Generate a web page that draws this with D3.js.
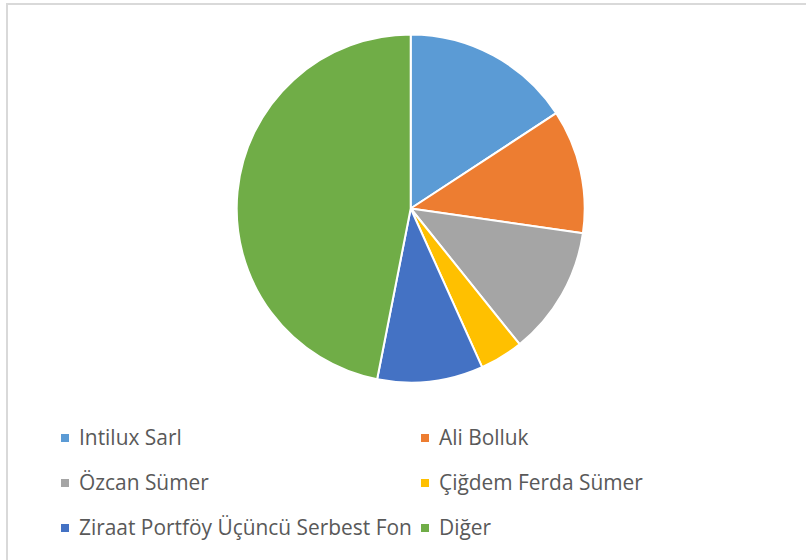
<!DOCTYPE html>
<html>
<head>
<meta charset="utf-8">
<script src="https://cdn.jsdelivr.net/npm/d3@7/dist/d3.min.js"></script>
<style>
  html, body { margin: 0; padding: 0; background: #fff; }
  svg { display: block; }
</style>
</head>
<body>
<svg id="chart" width="806" height="560"></svg>
<script>
const categories = ["Intilux Sarl", "Ali Bolluk", "Özcan Sümer", "Çiğdem Ferda Sümer", "Ziraat Portföy Üçüncü Serbest Fon", "Diğer"];
const shares = [15.77, 11.50, 11.97, 4.03, 9.82, 46.91];
const colors = ["#5B9BD5", "#ED7D31", "#A5A5A5", "#FFC000", "#4472C4", "#70AD47"];

const svg = d3.select("#chart");

// chart frame
svg.append("rect")
  .attr("x", 7).attr("y", 4)
  .attr("width", 830).attr("height", 600)
  .attr("fill", "#fff")
  .attr("stroke", "#d9d9d9")
  .attr("stroke-width", 2);

const cx = 410.7, cy = 208.5, r = 174;

const data = categories.map((c, i) => ({ name: c, value: shares[i], color: colors[i] }));

const pie = d3.pie().value(d => d.value).sort(null);
const arc = d3.arc().innerRadius(0).outerRadius(r);

svg.append("g")
  .attr("transform", `translate(${cx},${cy})`)
  .selectAll("path")
  .data(pie(data))
  .join("path")
  .attr("d", arc)
  .attr("fill", d => d.data.color)
  .attr("stroke", "#fff")
  .attr("stroke-width", 2)
  .attr("stroke-linejoin", "round");

// legend
const colX = [61, 421];
const rowY = [445, 490, 535];
const lg = svg.append("g");
data.forEach((d, i) => {
  const col = i % 2, row = Math.floor(i / 2);
  const x = colX[col], y = rowY[row];
  lg.append("rect")
    .attr("x", x).attr("y", y - 11)
    .attr("width", 8).attr("height", 8)
    .attr("fill", d.color);
  lg.append("text")
    .attr("x", x + 18).attr("y", y)
    .attr("font-family", "'Open Sans', 'Noto Sans', sans-serif")
    .attr("font-size", 20.9)
    .attr("fill", "#595959")
    .text(d.name);
});
</script>
</body>
</html>
